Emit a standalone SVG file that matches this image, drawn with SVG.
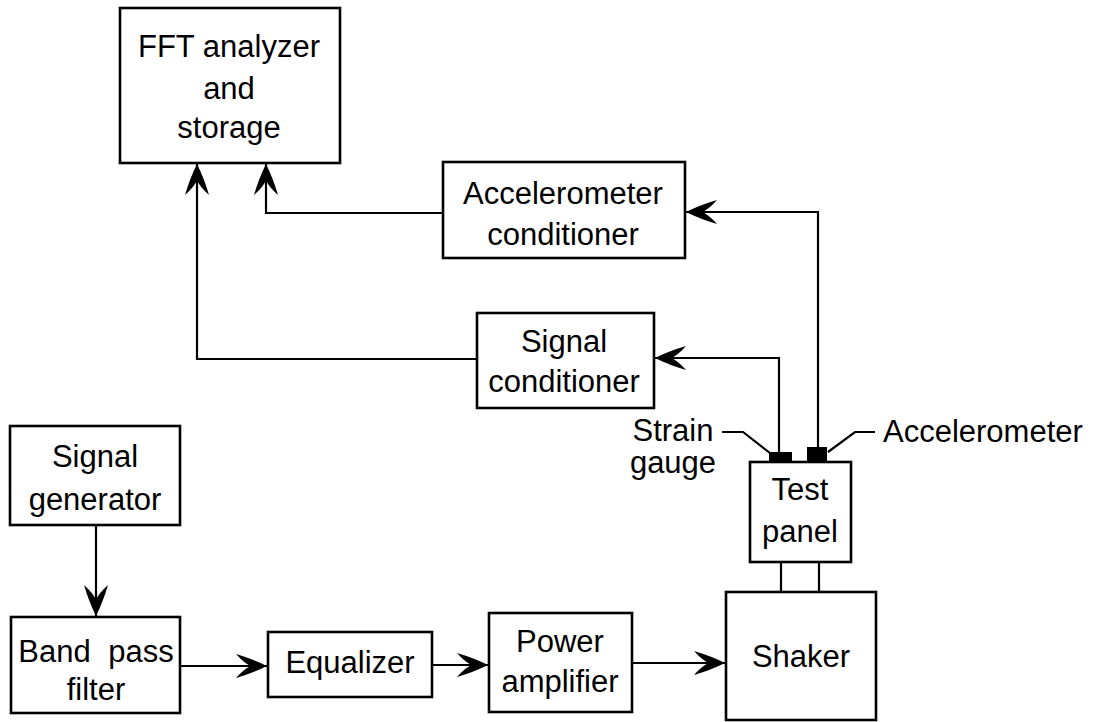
<svg xmlns="http://www.w3.org/2000/svg" width="1097" height="722" viewBox="0 0 1097 722">
<style>
.box{fill:#fff;stroke:#000;stroke-width:2.6}
.ln{fill:none;stroke:#000;stroke-width:2.2}
.t{font-family:"Liberation Sans",Arial,Helvetica,sans-serif;font-size:31px;fill:#000;text-anchor:middle}
</style>
<defs>
<marker id="ah" markerUnits="userSpaceOnUse" viewBox="-34 -14 36 28" refX="0" refY="0" markerWidth="36" markerHeight="28" orient="auto">
<path d="M0,0 Q-14,-7 -31,-12 Q-22,-2 -16,0 Q-22,2 -31,12 Q-14,7 0,0 Z" fill="#000"/>
</marker>
</defs>
<rect width="1097" height="722" fill="#fff"/>
<g id="connectors">
<path class="ln" d="M443,213 H266 V164" marker-end="url(#ah)"/>
<path class="ln" d="M477,359 H197 V164" marker-end="url(#ah)"/>
<path class="ln" d="M818,447 V212 H686" marker-end="url(#ah)"/>
<path class="ln" d="M779,452 V358 H655" marker-end="url(#ah)"/>
<path class="ln" d="M96,525 V616" marker-end="url(#ah)"/>
<path class="ln" d="M180,666 H267" marker-end="url(#ah)"/>
<path class="ln" d="M432,665 H488" marker-end="url(#ah)"/>
<path class="ln" d="M632,663 H725" marker-end="url(#ah)"/>
<path class="ln" d="M781,562 V592 M819,562 V592"/>
<path class="ln" d="M722,432 H743 L770,453"/>
<path class="ln" d="M828,452 L855,432 H875"/>
</g>
<g id="fft">
<rect class="box" x="120" y="8" width="220" height="155"/>
<text class="t" x="229" y="57">FFT analyzer</text>
<text class="t" x="229" y="99">and</text>
<text class="t" x="229" y="138">storage</text>
</g>
<g id="accel-conditioner">
<rect class="box" x="443" y="162" width="242" height="96"/>
<text class="t" x="563" y="204">Accelerometer</text>
<text class="t" x="563" y="245">conditioner</text>
</g>
<g id="signal-conditioner">
<rect class="box" x="477" y="313" width="177" height="95"/>
<text class="t" x="564" y="352">Signal</text>
<text class="t" x="564" y="392">conditioner</text>
</g>
<g id="signal-generator">
<rect class="box" x="10" y="426" width="170" height="99"/>
<text class="t" x="95" y="467">Signal</text>
<text class="t" x="95" y="510">generator</text>
</g>
<g id="band-pass-filter">
<rect class="box" x="11" y="617" width="169" height="96"/>
<text class="t" x="96" y="662" word-spacing="9">Band pass</text>
<text class="t" x="96" y="700">filter</text>
</g>
<g id="equalizer">
<rect class="box" x="268" y="632" width="164" height="65"/>
<text class="t" x="350" y="673">Equalizer</text>
</g>
<g id="power-amplifier">
<rect class="box" x="489" y="613" width="143" height="99"/>
<text class="t" x="560" y="652">Power</text>
<text class="t" x="560" y="692">amplifier</text>
</g>
<g id="shaker">
<rect class="box" x="726" y="592" width="150" height="128"/>
<text class="t" x="801" y="667">Shaker</text>
</g>
<g id="test-panel">
<rect class="box" x="750" y="462" width="101" height="100"/>
<text class="t" x="800" y="500">Test</text>
<text class="t" x="800" y="542">panel</text>
</g>
<g id="strain-gauge">
<rect x="769" y="452" width="23" height="11" fill="#000"/>
<text class="t" x="673" y="441">Strain</text>
<text class="t" x="673" y="473">gauge</text>
</g>
<g id="accelerometer">
<rect x="807" y="447" width="20" height="16" fill="#000"/>
<text class="t" x="883" y="442" style="text-anchor:start">Accelerometer</text>
</g>
</svg>
